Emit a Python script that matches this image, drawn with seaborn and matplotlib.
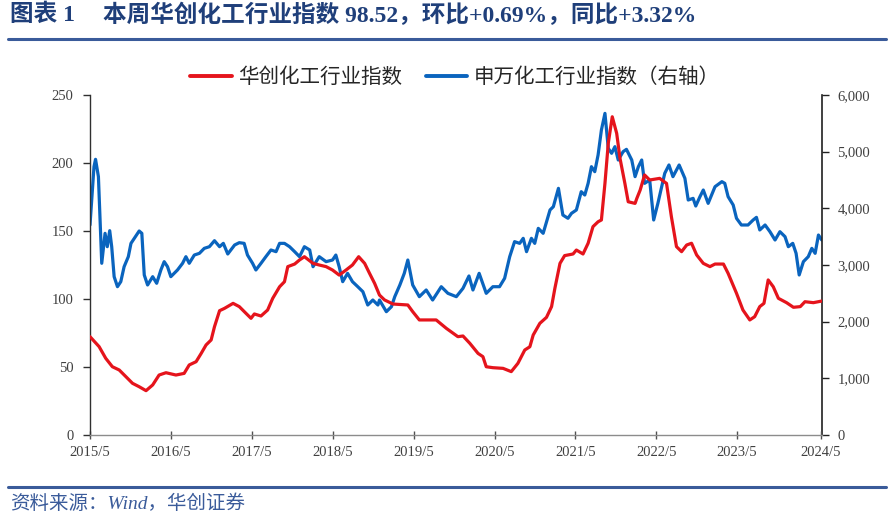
import matplotlib
matplotlib.use("Agg")
import matplotlib.pyplot as plt
import pandas as pd
import seaborn as sns
from matplotlib.lines import Line2D
from matplotlib.ticker import FuncFormatter

# ---------------- data ----------------
red_dates = [
    "2015-05-01", "2015-06-11", "2015-07-11", "2015-08-10", "2015-09-10", "2015-10-10",
    "2015-11-09", "2015-12-09", "2016-01-09", "2016-02-08", "2016-03-08", "2016-04-08",
    "2016-05-23", "2016-06-29", "2016-07-22", "2016-08-22", "2016-09-14", "2016-10-06",
    "2016-10-29", "2016-11-13", "2016-12-06", "2016-12-28", "2017-02-05", "2017-03-05",
    "2017-04-04", "2017-04-27", "2017-05-12", "2017-06-11", "2017-07-11", "2017-08-03",
    "2017-09-03", "2017-09-25", "2017-10-10", "2017-11-10", "2017-12-02", "2017-12-24",
    "2018-02-01", "2018-03-01", "2018-04-01", "2018-04-30", "2018-05-30", "2018-06-30",
    "2018-07-29", "2018-08-26", "2018-09-22", "2018-10-14", "2018-11-06", "2018-11-28",
    "2018-12-21", "2019-01-28", "2019-04-05", "2019-04-27", "2019-05-27", "2019-08-11",
    "2019-09-26", "2019-11-17", "2019-12-10", "2020-01-10", "2020-02-16", "2020-03-09",
    "2020-03-24", "2020-04-23", "2020-06-08", "2020-07-15", "2020-08-14", "2020-09-14",
    "2020-10-07", "2020-10-22", "2020-11-21", "2020-12-21", "2021-01-13", "2021-01-28",
    "2021-02-20", "2021-03-13", "2021-04-20", "2021-05-05", "2021-06-04", "2021-06-27",
    "2021-07-19", "2021-08-11", "2021-08-26", "2021-09-11", "2021-09-26", "2021-10-14",
    "2021-11-03", "2021-11-18", "2021-12-10", "2021-12-25", "2022-01-25", "2022-02-02",
    "2022-02-17", "2022-03-09", "2022-04-01", "2022-05-16", "2022-06-16", "2022-07-08",
    "2022-07-31", "2022-08-23", "2022-09-15", "2022-10-07", "2022-10-30", "2022-11-29",
    "2022-12-29", "2023-01-21", "2023-02-28", "2023-03-21", "2023-04-28", "2023-05-27",
    "2023-06-27", "2023-07-19", "2023-08-11", "2023-08-30", "2023-09-18", "2023-10-11",
    "2023-11-03", "2023-12-10", "2024-01-10", "2024-02-10", "2024-03-02", "2024-04-09",
    "2024-05-17",
]
red_values = [
    72.3, 65.0, 56.4, 50.2, 47.8, 42.9,
    38.0, 35.5, 32.6, 36.8, 44.1, 45.8,
    44.1, 45.3, 51.5, 53.9, 60.0, 66.2,
    69.9, 79.6, 91.4, 93.1, 96.8, 94.4,
    89.5, 85.8, 89.0, 87.5, 91.9, 100.5,
    109.0, 112.7, 123.8, 125.7, 128.7, 131.1,
    126.2, 125.0, 123.8, 121.3, 117.6, 121.3,
    125.0, 131.1, 126.2, 118.9, 111.5, 102.9,
    99.3, 96.3, 95.6, 90.7, 84.6, 84.6,
    78.4, 72.3, 72.8, 67.4, 60.0, 57.6,
    50.2, 49.5, 49.0, 46.6, 52.7, 62.5,
    64.9, 73.5, 82.1, 86.5, 94.4, 107.9,
    126.2, 131.9, 133.1, 136.0, 133.1, 141.0,
    153.2, 156.8, 158.1, 185.0, 214.5, 234.0,
    221.8, 203.4, 185.0, 171.5, 170.3, 174.0,
    180.1, 191.2, 187.5, 188.7, 185.0, 160.5,
    138.5, 134.8, 139.7, 141.0, 132.4, 126.2,
    123.8, 125.7, 125.7, 118.9, 104.2, 91.9,
    84.6, 87.0, 94.4, 96.8, 114.0, 109.0,
    100.5, 97.3, 93.9, 94.4, 98.0, 97.3,
    98.5,
]

blue_dates = [
    "2015-05-01", "2015-05-19", "2015-05-26", "2015-06-08", "2015-06-23", "2015-07-08",
    "2015-07-18", "2015-07-29", "2015-08-07", "2015-08-18", "2015-09-02", "2015-09-17",
    "2015-10-02", "2015-10-21", "2015-11-02", "2015-11-17", "2015-12-09", "2015-12-21",
    "2016-01-01", "2016-01-16", "2016-02-08", "2016-02-26", "2016-03-16", "2016-03-31",
    "2016-04-15", "2016-04-30", "2016-05-30", "2016-06-22", "2016-07-07", "2016-07-22",
    "2016-08-14", "2016-09-06", "2016-09-28", "2016-10-21", "2016-11-13", "2016-12-06",
    "2016-12-23", "2017-01-12", "2017-02-12", "2017-03-05", "2017-03-27", "2017-04-11",
    "2017-05-04", "2017-05-19", "2017-06-11", "2017-07-03", "2017-07-26", "2017-08-18",
    "2017-09-03", "2017-09-25", "2017-10-18", "2017-11-10", "2017-12-02", "2017-12-24",
    "2018-01-17", "2018-02-01", "2018-03-01", "2018-04-01", "2018-04-30", "2018-05-15",
    "2018-05-30", "2018-06-15", "2018-07-07", "2018-07-29", "2018-08-22", "2018-09-14",
    "2018-10-06", "2018-10-29", "2018-11-21", "2018-11-28", "2018-12-29", "2019-01-21",
    "2019-02-05", "2019-02-28", "2019-03-20", "2019-04-05", "2019-04-27", "2019-05-27",
    "2019-06-27", "2019-07-26", "2019-09-03", "2019-10-03", "2019-11-10", "2019-12-10",
    "2020-01-06", "2020-01-24", "2020-02-21", "2020-03-24", "2020-04-23", "2020-05-23",
    "2020-06-15", "2020-07-08", "2020-07-30", "2020-08-22", "2020-09-07", "2020-09-22",
    "2020-10-14", "2020-10-29", "2020-11-14", "2020-12-06", "2021-01-06", "2021-01-21",
    "2021-02-13", "2021-03-05", "2021-03-28", "2021-04-13", "2021-05-05", "2021-05-27",
    "2021-06-12", "2021-06-27", "2021-07-12", "2021-07-27", "2021-08-11", "2021-08-26",
    "2021-09-11", "2021-09-26", "2021-10-11", "2021-10-26", "2021-11-10", "2021-12-02",
    "2021-12-17", "2022-01-10", "2022-01-25", "2022-02-09", "2022-02-24", "2022-03-09",
    "2022-04-01", "2022-04-19", "2022-05-08", "2022-06-08", "2022-06-27", "2022-07-15",
    "2022-08-12", "2022-09-07", "2022-09-22", "2022-10-14", "2022-10-26", "2022-11-14",
    "2022-11-29", "2022-12-21", "2023-01-21", "2023-02-21", "2023-03-06", "2023-03-21",
    "2023-04-13", "2023-04-28", "2023-05-20", "2023-06-19", "2023-07-12", "2023-07-27",
    "2023-08-11", "2023-09-04", "2023-09-26", "2023-10-19", "2023-11-10", "2023-12-03",
    "2023-12-18", "2024-01-07", "2024-01-22", "2024-02-05", "2024-02-24", "2024-03-17",
    "2024-04-02", "2024-04-17", "2024-05-02", "2024-05-17",
]
blue_values = [
    3706, 4735, 4865, 4559, 3030, 3559,
    3323, 3606, 3323, 2794, 2617, 2706,
    2970, 3147, 3382, 3471, 3600, 3559,
    2824, 2647, 2794, 2677, 2912, 3059,
    2970, 2794, 2912, 3030, 3147, 3030,
    3176, 3206, 3294, 3323, 3429, 3323,
    3382, 3194, 3353, 3394, 3382, 3176,
    3030, 2912, 3030, 3147, 3265, 3235,
    3382, 3382, 3323, 3235, 3147, 3323,
    3265, 2970, 3147, 3059, 3088, 3176,
    2970, 2706, 2853, 2706, 2617, 2529,
    2294, 2382, 2294, 2382, 2176, 2264,
    2441, 2647, 2853, 3088, 2647, 2441,
    2559, 2382, 2617, 2500, 2441, 2588,
    2806, 2559, 2853, 2500, 2617, 2617,
    2765, 3147, 3412, 3382, 3471, 3235,
    3471, 3382, 3647, 3559, 3971, 4029,
    4353, 3882, 3824, 3912, 3971, 4294,
    4235, 4441, 4735, 4647, 4941, 5382,
    5676, 5059, 4971, 5088, 4853, 5000,
    5041, 4853, 4559, 4735, 4853, 4441,
    4500, 3794, 4088, 4618, 4765, 4559,
    4765, 4529, 4147, 4176, 4041, 4206,
    4323, 4088, 4382, 4471, 4441, 4206,
    4059, 3824, 3706, 3706, 3794, 3841,
    3618, 3706, 3588, 3441, 3588, 3500,
    3323, 3382, 3206, 2824, 3059, 3147,
    3294, 3206, 3529, 3441,
]

red_label = "华创化工行业指数"
blue_label = "申万化工行业指数（右轴）"
title_prefix = "图表 1"
title_text = "本周华创化工行业指数 98.52，环比+0.69%，同比+3.32%"
source_text = "资料来源：Wind，华创证券"
tick_years = list(range(2015, 2025))

# ---------------- style ----------------
sns.set_theme(style="white")
plt.rcParams["font.family"] = ["Liberation Serif", "Noto Sans CJK SC", "DejaVu Sans"]

RED = "#E5141C"
BLUE = "#0A64BE"
NAVY = "#1F3F7A"
RULE = "#3A5B9A"
TICK = "#404040"

red_df = pd.DataFrame({"date": pd.to_datetime(red_dates), "value": red_values})
blue_df = pd.DataFrame({"date": pd.to_datetime(blue_dates), "value": blue_values})

fig = plt.figure(figsize=(8.94, 5.19), dpi=100)
ax = fig.add_axes([90 / 894, 1 - 435 / 519, (822 - 90) / 894, (435 - 95) / 519])
ax2 = ax.twinx()

sns.lineplot(data=red_df, x="date", y="value", ax=ax, color=RED, linewidth=2.3, zorder=3)
sns.lineplot(data=blue_df, x="date", y="value", ax=ax2, color=BLUE, linewidth=2.3, zorder=2)

# red line on top of blue
ax.set_zorder(ax2.get_zorder() + 1)
ax.patch.set_visible(False)

ax.set_ylim(0, 250)
ax2.set_ylim(0, 6000)
ax.set_yticks(range(0, 251, 50))
ax2.set_yticks(range(0, 6001, 1000))
ax2.yaxis.set_major_formatter(FuncFormatter(lambda v, p: f"{int(v):,}"))

ax.set_xlim(pd.Timestamp("2015-05-01"), pd.Timestamp("2024-05-18"))
ticks = [pd.Timestamp(f"{y}-05-01") for y in tick_years]
ticks[-1] = pd.Timestamp("2024-05-14")
ax.set_xticks(ticks)
ax.set_xticklabels([f"{y}/5" for y in tick_years])

for a in (ax, ax2):
    a.set_xlabel("")
    a.set_ylabel("")
    a.grid(False)
    a.spines["top"].set_visible(False)

ax.spines["left"].set_color("#303030")
ax.spines["bottom"].set_color("#8C8C8C")
ax.spines["right"].set_visible(False)
ax2.spines["left"].set_visible(False)
ax2.spines["bottom"].set_visible(False)
ax2.spines["right"].set_color("#202020")
for s in ("left", "bottom"):
    ax.spines[s].set_linewidth(1.0)
ax2.spines["right"].set_linewidth(1.2)

ax.tick_params(axis="y", direction="out", length=5, width=1, color="#303030",
               labelsize=10.5, labelcolor=TICK, pad=7, left=True)
ax.tick_params(axis="x", direction="inout", length=6, width=1, color="#505050",
               labelsize=10.5, labelcolor=TICK, pad=5, bottom=True)
ax2.tick_params(axis="y", direction="out", length=5, width=1, color="#202020",
                labelsize=10.5, labelcolor=TICK, pad=6, right=True)

# legend
handles = [Line2D([0], [0], color=RED, lw=2.8), Line2D([0], [0], color=BLUE, lw=2.8)]
fig.legend(handles, [red_label, blue_label], loc="center", ncol=2,
           bbox_to_anchor=(455 / 894, 1 - 77 / 519), frameon=False,
           prop={"family": ["Noto Sans CJK SC"], "size": 14.8},
           handlelength=2.0, columnspacing=1.2, handletextpad=0.3)

# title and rules
title_font = ["Liberation Serif", "Noto Sans CJK SC"]
fig.text(10 / 894, 1 - 15 / 519, title_prefix, ha="left", va="center",
         fontsize=17, fontweight="bold", color=NAVY, family=title_font)
fig.text(103 / 894, 1 - 15 / 519, title_text, ha="left", va="center",
         fontsize=17, fontweight="bold", color=NAVY, family=title_font)
fig.add_artist(Line2D([8 / 894, 886 / 894], [1 - 39 / 519, 1 - 39 / 519],
                      color=RULE, lw=2.2, transform=fig.transFigure))
fig.add_artist(Line2D([8 / 894, 886 / 894], [1 - 487 / 519, 1 - 487 / 519],
                      color=RULE, lw=2.2, transform=fig.transFigure))
fig.text(10 / 894, 1 - 504 / 519, source_text, ha="left", va="center",
         fontsize=14, color=RULE, style="italic", family=title_font)

fig.savefig("out.png", dpi=100)
